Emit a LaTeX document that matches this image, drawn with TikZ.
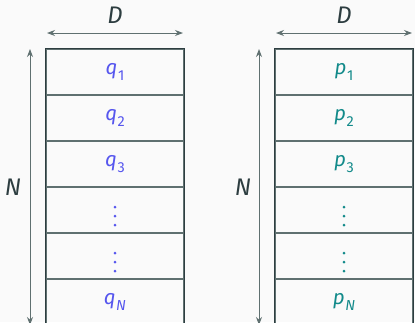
\documentclass[tikz,border=0pt]{standalone}
\usepackage{fontspec}
\setmainfont{Fira Sans}
\usetikzlibrary{arrows.meta}
\definecolor{bg}{HTML}{FAFAFA}
\definecolor{frame}{HTML}{2D3D40}
\definecolor{rule}{HTML}{5F7070}
\definecolor{qcol}{HTML}{5656EE}
\definecolor{pcol}{HTML}{128A8A}
\newcommand\sublbl[2]{\textit{#1}\kern0.5pt\raisebox{-5.5pt}{\fontsize{14.5}{14.5}\selectfont #2}}
\tikzset{
  cell/.style={draw=rule, line width=1.1pt, minimum width=138pt, minimum height=46pt,
    inner sep=0pt, font=\fontsize{20.5}{24}\selectfont},
  outerbox/.style={draw=frame, line width=1.6pt},
  dim/.style={draw=rule, line width=1pt, {Stealth[length=8pt,width=6pt]}-{Stealth[length=8pt,width=6pt]}},
  dimlbl/.style={text=frame, font=\fontsize{24}{28}\selectfont\itshape},
  vdot/.style={circle, fill=#1, inner sep=0pt, minimum size=3pt}
}
\begin{document}
\begin{tikzpicture}[x=1pt, y=-1pt]
  \fill[bg] (0,0) rectangle (415,322);
  \useasboundingbox (0,0) rectangle (415,322);

  % left column of cells
  \node[cell, text=qcol] (q1) at (115,72)  {\sublbl{q}{1}};
  \node[cell, text=qcol] (q2) at (115,118) {\sublbl{q}{2}};
  \node[cell, text=qcol] (q3) at (115,164) {\sublbl{q}{3}};
  \node[cell] (q4) at (115,210) {};
  \node[cell] (q5) at (115,256) {};
  \node[cell, text=qcol] (qN) at (115,302) {\sublbl{q}{\itshape N}};
  \draw[outerbox] (q1.north west) rectangle (qN.south east);

  % right column of cells
  \node[cell, text=pcol] (p1) at (344,72)  {\sublbl{p}{1}};
  \node[cell, text=pcol] (p2) at (344,118) {\sublbl{p}{2}};
  \node[cell, text=pcol] (p3) at (344,164) {\sublbl{p}{3}};
  \node[cell] (p4) at (344,210) {};
  \node[cell] (p5) at (344,256) {};
  \node[cell, text=pcol] (pN) at (344,302) {\sublbl{p}{\itshape N}};
  \draw[outerbox] (p1.north west) rectangle (pN.south east);

  % vertical ellipses (three dots, sitting on the text baseline)
  \foreach \c/\col in {q4/qcol, q5/qcol, p4/pcol, p5/pcol}{
    \node[vdot=\col] (\c a) at ([yshift=3pt]\c.center) {};
    \node[vdot=\col] (\c b) at ([yshift=-6pt]\c.center) {};
    \node[vdot=\col] (\c c) at ([yshift=-15pt]\c.center) {};
  }

  % width dimension D
  \coordinate (dql) at (47,33);  \coordinate (dqr) at (183,33);
  \coordinate (dpl) at (276,33); \coordinate (dpr) at (412,33);
  \draw[dim] (dql) -- (dqr);
  \draw[dim] (dpl) -- (dpr);
  \node[dimlbl] (Dq) at (115,15) {D};
  \node[dimlbl] (Dp) at (344,15) {D};

  % height dimension N
  \coordinate (nqt) at (30,49);  \coordinate (nqb) at (30,325);
  \coordinate (npt) at (259,49); \coordinate (npb) at (259,325);
  \draw[dim] (nqt) -- (nqb);
  \draw[dim] (npt) -- (npb);
  \node[dimlbl] (Nq) at (13,187) {N};
  \node[dimlbl] (Np) at (243,187) {N};
\end{tikzpicture}
\end{document}
